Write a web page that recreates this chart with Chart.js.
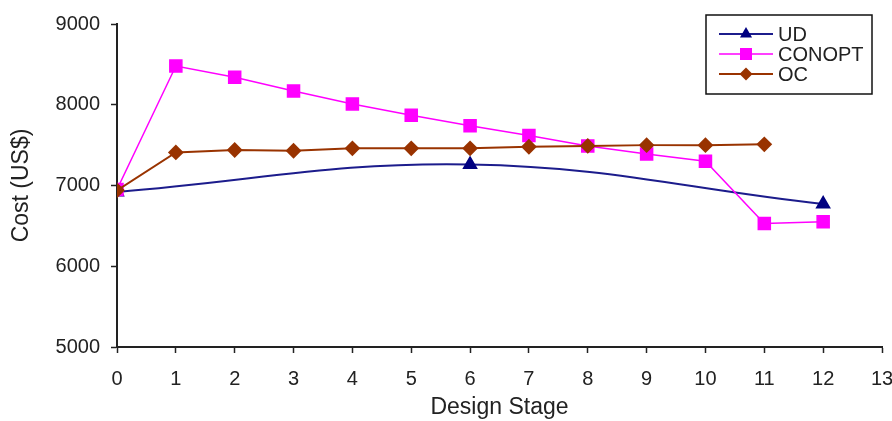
<!DOCTYPE html>
<html>
<head>
<meta charset="utf-8">
<script src="https://cdn.jsdelivr.net/npm/chart.js@4.4.0/dist/chart.umd.min.js"></script>
<style>
  html, body { margin: 0; padding: 0; background: #fff; }
  #wrap { width: 892px; height: 421px; }
</style>
</head>
<body>
<div id="wrap"><canvas id="chart" width="892" height="421"></canvas></div>
<script>
// values
const udStage = [0, 6, 12];
const udCost = [6920, 7260, 6770];

const conoptStage = [0, 1, 2, 3, 4, 5, 6, 7, 8, 9, 10, 11, 12];
const conoptCost = [6950, 8480, 8340, 8170, 8010, 7870, 7740, 7620, 7490, 7390, 7300, 6530, 6550];

const ocStage = [0, 1, 2, 3, 4, 5, 6, 7, 8, 9, 10, 11];
const ocCost = [6940, 7410, 7440, 7430, 7460, 7460, 7460, 7480, 7490, 7500, 7500, 7510];

const seriesNames = ['UD', 'CONOPT', 'OC'];

const FONT = "'Liberation Sans', Arial, sans-serif";
const INK = '#222';

const toPoints = (xs, ys) => xs.map((x, i) => ({ x: x, y: ys[i] }));

function marker(ctx, style, x, y, r) {
    ctx.beginPath();
    if (style === 'triangle') {
        ctx.moveTo(x, y - r);
        ctx.lineTo(x + r * 0.866, y + r * 0.5);
        ctx.lineTo(x - r * 0.866, y + r * 0.5);
    } else if (style === 'rect') {
        const s = r * Math.SQRT1_2;
        ctx.rect(x - s, y - s, 2 * s, 2 * s);
    } else {
        ctx.moveTo(x - r, y);
        ctx.lineTo(x, y - r);
        ctx.lineTo(x + r, y);
        ctx.lineTo(x, y + r);
    }
    ctx.closePath();
    ctx.fill();
}

// excel style legend box: line + marker + name
const boxLegend = {
    id: 'boxLegend',
    afterDraw(chart) {
        const ctx = chart.ctx;
        const left = 706, top = 15, w = 166, h = 79;
        ctx.save();
        ctx.fillStyle = '#fff';
        ctx.fillRect(left, top, w, h);
        ctx.strokeStyle = '#111';
        ctx.lineWidth = 1.5;
        ctx.strokeRect(left, top, w, h);
        ctx.font = '20px ' + FONT;
        ctx.textBaseline = 'middle';
        chart.data.datasets.forEach((ds, i) => {
            const y = 34 + i * 20;
            ctx.strokeStyle = ds.borderColor;
            ctx.lineWidth = ds.borderWidth;
            ctx.beginPath();
            ctx.moveTo(719, y);
            ctx.lineTo(773, y);
            ctx.stroke();
            ctx.fillStyle = ds.pointBackgroundColor;
            marker(ctx, ds.pointStyle, 746, y, ds.pointRadius);
            ctx.fillStyle = INK;
            ctx.fillText(ds.label, 778, y + 1);
        });
        ctx.restore();
    }
};

new Chart(document.getElementById('chart'), {
    type: 'scatter',
    data: {
        datasets: [
            {
                label: seriesNames[0],
                data: toPoints(udStage, udCost),
                showLine: true,
                tension: 0.4,
                borderColor: '#1c1c8c',
                borderWidth: 2,
                pointStyle: 'triangle',
                pointRadius: 7,
                pointBackgroundColor: '#000080',
                pointBorderColor: '#000080',
                order: 3
            },
            {
                label: seriesNames[1],
                data: toPoints(conoptStage, conoptCost),
                showLine: true,
                borderColor: '#ff00ff',
                borderWidth: 1.5,
                pointStyle: 'rect',
                pointRadius: 8.5,
                pointBackgroundColor: '#ff00ff',
                pointBorderColor: '#ff00ff',
                order: 2
            },
            {
                label: seriesNames[2],
                data: toPoints(ocStage, ocCost),
                showLine: true,
                borderColor: '#993300',
                borderWidth: 2,
                pointStyle: 'rectRot',
                pointRadius: 6.5,
                pointBackgroundColor: '#993300',
                pointBorderColor: '#993300',
                order: 1
            }
        ]
    },
    options: {
        responsive: false,
        animation: false,
        devicePixelRatio: 1,
        layout: { padding: { top: 24, right: 10, left: 0, bottom: 0 } },
        plugins: {
            legend: { display: false },
            tooltip: { enabled: false }
        },
        scales: {
            x: {
                type: 'linear',
                min: 0,
                max: 13,
                afterFit: (s) => { s.height = 74; s.paddingRight = 0; s.paddingLeft = 0; },
                ticks: { stepSize: 1, color: INK, padding: 14, font: { family: FONT, size: 20 } },
                grid: { drawOnChartArea: false, drawTicks: true, tickLength: 6, tickColor: INK, tickWidth: 1.5 },
                border: { color: INK, width: 2 },
                title: {
                    display: true,
                    text: 'Design Stage',
                    color: INK,
                    font: { family: FONT, size: 23 },
                    padding: { top: 0, bottom: 0 }
                }
            },
            y: {
                min: 5000,
                max: 9000,
                afterFit: (s) => { s.width = 117; s.paddingTop = 0; s.paddingBottom = 0; },
                ticks: {
                    stepSize: 1000,
                    color: INK,
                    padding: 11,
                    font: { family: FONT, size: 20 },
                    callback: (v) => String(v)
                },
                grid: { drawOnChartArea: false, drawTicks: true, tickLength: 6, tickColor: INK, tickWidth: 1.5 },
                border: { color: INK, width: 2 },
                title: {
                    display: true,
                    text: 'Cost (US$)',
                    color: INK,
                    font: { family: FONT, size: 23 },
                    padding: { top: 8, bottom: 0 }
                }
            }
        }
    },
    plugins: [boxLegend]
});
</script>
</body>
</html>
